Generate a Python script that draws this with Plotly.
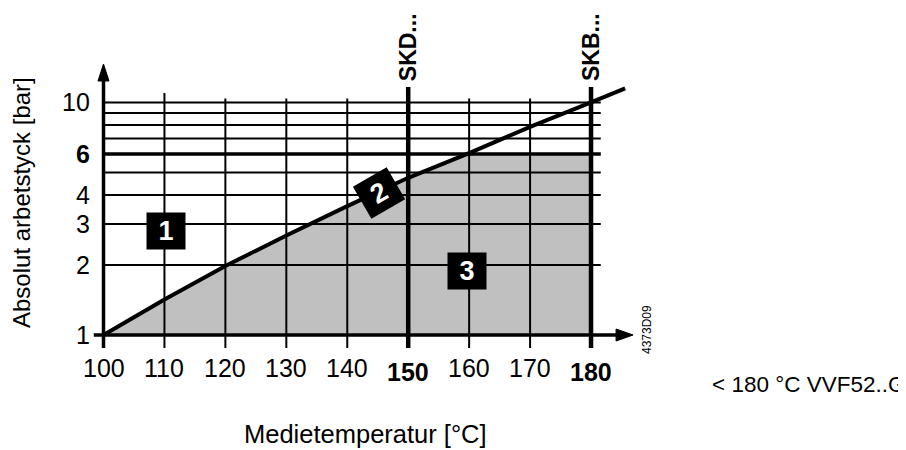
import numpy as np
import plotly.graph_objects as go

# ---------------- data ----------------
TEMP_C = [100, 110, 120, 130, 140, 150, 160, 170, 180, 185.6]
PRESSURE_BAR = [1.0, 1.42, 1.98, 2.68, 3.58, 4.74, 6.05, 7.85, 10.0, 11.5]
X_TICKS = [100, 110, 120, 130, 140, 150, 160, 170, 180]
X_TICKS_BOLD = [150, 180]
Y_TICKS = [1, 2, 3, 4, 6, 10]
Y_TICKS_BOLD = [6]
Y_GRID = [2, 3, 4, 5, 6, 7, 8, 9, 10]
LIMIT_PRESSURE = 6
LIMIT_TEMP = 180
VALVE_NAMES = ["SKD...", "SKB..."]
VALVE_TEMPS = [150, 180]
ZONE_LABELS = ["1", "2", "3"]
ZONE_TEMP = [110.25, 145.2, 159.65]
ZONE_PRESSURE = [2.80, 4.08, 1.88]
ZONE_ANGLE = [0, -30, 0]
X_TITLE = "Medietemperatur [°C]"
Y_TITLE = "Absolut arbetstyck [bar]"
SIDE_NOTE = "< 180 °C VVF52..G"
DRAWING_ID = "4373D09"

# ---------------- layout constants ----------------
PAGE_W, PAGE_H = 906, 450
BODY_MARGIN = 8                      # default page margin of the html body
W, H = PAGE_W - BODY_MARGIN, PAGE_H - BODY_MARGIN
PX_PER_DEG = 6.094                   # horizontal scale
PX_PER_DECADE = 232.6                # vertical (log) scale
ORIGIN_PX = (103.5, 335.0)           # page position of (100 °C, 1 bar)

X_RANGE = [100 - (ORIGIN_PX[0] - BODY_MARGIN) / PX_PER_DEG,
           100 - (ORIGIN_PX[0] - BODY_MARGIN) / PX_PER_DEG + W / PX_PER_DEG]
Y_RANGE_LOG = [(ORIGIN_PX[1] - PAGE_H) / PX_PER_DECADE,
               (ORIGIN_PX[1] - BODY_MARGIN) / PX_PER_DECADE]
DX = 1 / PX_PER_DEG
DY = 1 / PX_PER_DECADE


def py(p):
    """page pixel row -> log10 value on the y axis"""
    return (ORIGIN_PX[1] - p) / PX_PER_DECADE


def paper_x(p):
    return (p - BODY_MARGIN) / W


def paper_y(p):
    return 1 - (p - BODY_MARGIN) / H


GRID_X_END = 181.6
GRID_TOP = 10 ** py(98.5)
GRID_TOP_110 = 10 ** py(93)
VALVE_TOP = 10 ** py(87)
TICK_BOTTOM = 10 ** py(348)
X_AXIS_START = 98.4
X_AXIS_TIP = 186.9
Y_AXIS_TIP = 10 ** py(64)
ARROW_LEN_PX = 17
ARROW_HALF_PX = 6

FONT = "Liberation Sans, Arial, sans-serif"
GRAY = "#c0c0c0"
TICK_SIZE = 25
TITLE_SIZE = 25.5

fig = go.Figure()


def line(xs, ys, width):
    fig.add_trace(go.Scatter(x=xs, y=ys, mode="lines",
                             line=dict(color="black", width=width),
                             hoverinfo="skip"))


# shaded area below curve, limited by 6 bar and 180 °C
log_p = np.log10(PRESSURE_BAR)
t_at_limit = float(np.interp(np.log10(LIMIT_PRESSURE), log_p, TEMP_C))
fx = [t for t in TEMP_C if t < t_at_limit] + [t_at_limit, LIMIT_TEMP, LIMIT_TEMP, TEMP_C[0]]
fy = [p for t, p in zip(TEMP_C, PRESSURE_BAR) if t < t_at_limit] + [LIMIT_PRESSURE, LIMIT_PRESSURE, 1, 1]
fig.add_trace(go.Scatter(x=fx, y=fy, mode="lines", fill="toself", fillcolor=GRAY,
                         line=dict(width=0, color=GRAY), hoverinfo="skip"))

# horizontal grid lines
for g in Y_GRID:
    line([X_TICKS[0], GRID_X_END], [g, g], 3.5 if g == LIMIT_PRESSURE else 2)

# vertical grid lines
for t in X_TICKS[1:]:
    if t in VALVE_TEMPS:
        continue
    top = GRID_TOP_110 if t == 110 else GRID_TOP
    line([t, t], [TICK_BOTTOM, top], 2)

# valve limit lines
for t in VALVE_TEMPS:
    line([t, t], [TICK_BOTTOM, VALVE_TOP], 4.5)

# curve
line(TEMP_C, PRESSURE_BAR, 4)

# axes with arrow heads
x_base = X_AXIS_TIP - ARROW_LEN_PX * DX
line([X_AXIS_START, x_base], [1, 1], 3.5)
hy = 10 ** (ARROW_HALF_PX * DY)
fig.add_trace(go.Scatter(x=[x_base, X_AXIS_TIP, x_base, x_base], y=[hy, 1, 1 / hy, hy],
                         mode="lines", fill="toself", fillcolor="black",
                         line=dict(color="black", width=1), hoverinfo="skip"))
y_base = 10 ** (np.log10(Y_AXIS_TIP) - ARROW_LEN_PX * DY)
line([X_TICKS[0], X_TICKS[0]], [TICK_BOTTOM, y_base], 3.5)
hx = (ARROW_HALF_PX - 0.5) * DX
fig.add_trace(go.Scatter(x=[X_TICKS[0] - hx, X_TICKS[0], X_TICKS[0] + hx, X_TICKS[0] - hx],
                         y=[y_base, Y_AXIS_TIP, y_base, y_base],
                         mode="lines", fill="toself", fillcolor="black",
                         line=dict(color="black", width=1), hoverinfo="skip"))

ann = []
# x tick labels
for t in X_TICKS:
    bold = t in X_TICKS_BOLD
    ann.append(dict(x=t, y=py(368 + (4 if bold else 0)), xref="x", yref="y",
                    xanchor="center", yanchor="middle",
                    text=f"<b>{t}</b>" if bold else str(t), showarrow=False,
                    font=dict(size=TICK_SIZE, color="black", family=FONT)))
# y tick labels
for p in Y_TICKS:
    bold = p in Y_TICKS_BOLD
    ann.append(dict(x=X_TICKS[0] - 12 * DX, y=float(np.log10(p)), xref="x", yref="y",
                    xanchor="right", yanchor="middle",
                    text=f"<b>{p}</b>" if bold else str(p), showarrow=False,
                    font=dict(size=TICK_SIZE, color="black", family=FONT)))
# valve labels
for name, t in zip(VALVE_NAMES, VALVE_TEMPS):
    ann.append(dict(x=t, y=py(47), xref="x", yref="y", xanchor="center", yanchor="middle",
                    text=f"<b>{name}</b>", textangle=-90, showarrow=False,
                    font=dict(size=23, color="black", family=FONT)))
# zone labels
for lab, t, p, a in zip(ZONE_LABELS, ZONE_TEMP, ZONE_PRESSURE, ZONE_ANGLE):
    ann.append(dict(x=t, y=float(np.log10(p)), xref="x", yref="y",
                    xanchor="center", yanchor="middle",
                    text=f"<b>{lab}</b>", textangle=a, showarrow=False,
                    bgcolor="black", width=36, height=34,
                    font=dict(size=27, color="white", family=FONT)))
# titles and notes
ann.append(dict(x=paper_x(365), y=paper_y(434), xref="paper", yref="paper", text=X_TITLE,
                xanchor="center", yanchor="middle", borderpad=0,
                showarrow=False, font=dict(size=TITLE_SIZE, color="black", family=FONT)))
ann.append(dict(x=paper_x(21), y=paper_y(203), xref="paper", yref="paper", text=Y_TITLE,
                xanchor="center", yanchor="middle",
                textangle=-90, showarrow=False, font=dict(size=24, color="black", family=FONT)))
ann.append(dict(x=paper_x(906), y=paper_y(384), xref="paper", yref="paper", text=SIDE_NOTE,
                xanchor="right", yanchor="middle", showarrow=False, borderpad=0,
                font=dict(size=22.5, color="black", family=FONT)))
ann.append(dict(x=paper_x(647), y=paper_y(330), xref="paper", yref="paper", text=DRAWING_ID,
                xanchor="center", yanchor="middle",
                textangle=-90, showarrow=False, font=dict(size=12, color="black", family=FONT)))

fig.update_layout(
    width=W, height=H, margin=dict(l=0, r=0, t=0, b=0),
    paper_bgcolor="white", plot_bgcolor="white", showlegend=False,
    xaxis=dict(range=X_RANGE, visible=False, fixedrange=True),
    yaxis=dict(type="log", range=Y_RANGE_LOG, visible=False, fixedrange=True),
    annotations=ann,
)

fig.write_html("out.html")
